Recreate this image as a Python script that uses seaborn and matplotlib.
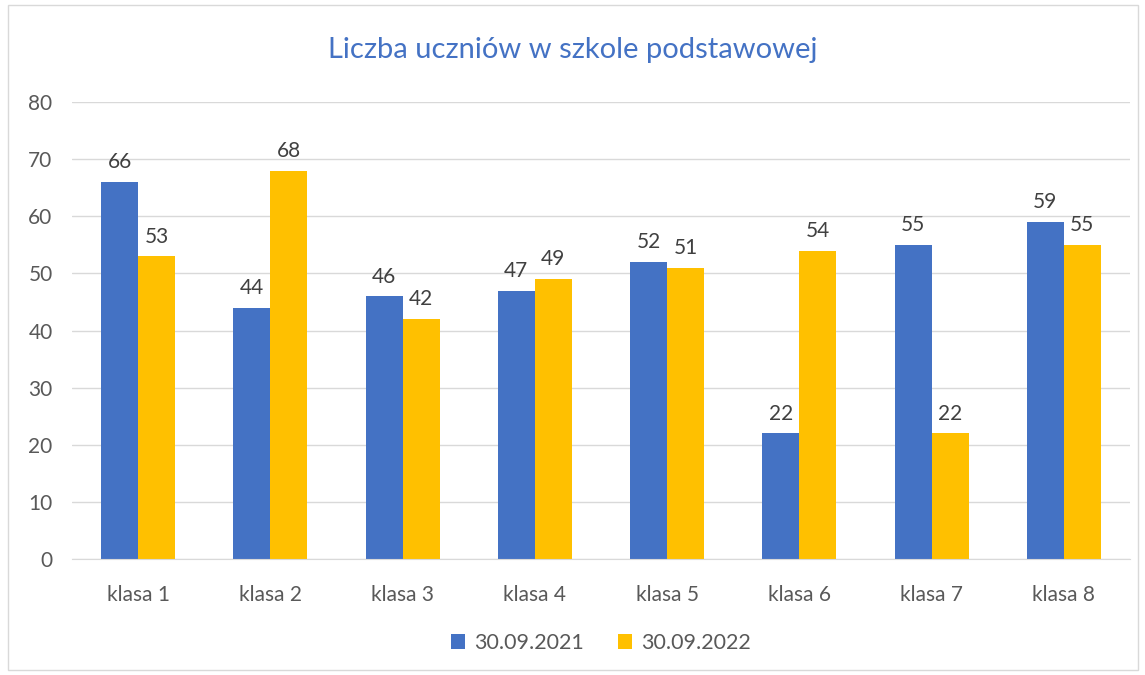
import matplotlib
matplotlib.use("Agg")
import matplotlib.pyplot as plt
import pandas as pd
import seaborn as sns
from matplotlib.patches import Rectangle

# Dane
klasy = ['klasa 1', 'klasa 2', 'klasa 3', 'klasa 4', 'klasa 5', 'klasa 6', 'klasa 7', 'klasa 8']
rok_2021 = [66, 44, 46, 47, 52, 22, 55, 59]
rok_2022 = [53, 68, 42, 49, 51, 54, 22, 55]
serie = ['30.09.2021', '30.09.2022']

df = pd.DataFrame({
    'klasa': klasy * 2,
    'liczba': rok_2021 + rok_2022,
    'data': [serie[0]] * len(klasy) + [serie[1]] * len(klasy),
})

sns.set_style('white')
plt.rcParams['font.family'] = ['Lato', 'DejaVu Sans']

fig = plt.figure(figsize=(11.45, 6.75), dpi=100)
ax = fig.add_axes([72 / 1145, 1 - 559 / 675, (1130 - 72) / 1145, (559 - 102) / 675])

sns.barplot(data=df, x='klasa', y='liczba', hue='data', hue_order=serie,
            palette=['#4472C4', '#FFC000'], width=0.56, saturation=1,
            linewidth=0, ax=ax, legend=True)

for cont in ax.containers:
    ax.bar_label(cont, padding=7, fontsize=15, color='#404040')

ax.set_ylim(0, 80)
ax.set_xlim(-0.5, 7.5)
ax.set_yticks(range(0, 81, 10))
ax.yaxis.grid(True, color='#D9D9D9', linewidth=1)
ax.set_axisbelow(True)
for s in ['top', 'right', 'left']:
    ax.spines[s].set_visible(False)
ax.spines['bottom'].set_color('#D9D9D9')
ax.tick_params(axis='both', length=0, labelsize=15, colors='#595959')
ax.tick_params(axis='x', pad=19)
ax.tick_params(axis='y', pad=14)
ax.set_xlabel('')
ax.set_ylabel('')

fig.text(0.5, 1 - 50 / 675, 'Liczba uczniów w szkole podstawowej', ha='center', va='center',
         fontsize=21, color='#4472C4')

leg = ax.legend(loc='center', bbox_to_anchor=(0.5, (559 - 643) / (559 - 102)), ncol=2,
                frameon=False, fontsize=15.5, handlelength=0.65, handleheight=0.65,
                columnspacing=1.6, handletextpad=0.4)
for t in leg.get_texts():
    t.set_color('#595959')

fig.patches.append(Rectangle((8 / 1145, 1 - 670 / 675), 1130 / 1145, 665 / 675,
                             transform=fig.transFigure, fill=False,
                             edgecolor='#D9D9D9', linewidth=1))

fig.savefig('out.png', dpi=100)
